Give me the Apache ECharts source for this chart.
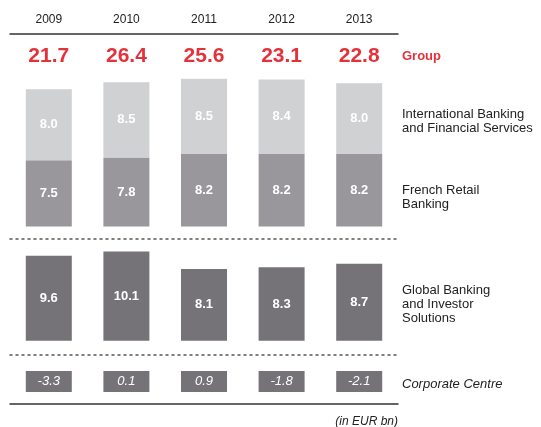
<!DOCTYPE html>
<html><head><meta charset="utf-8">
<script src="https://cdn.jsdelivr.net/npm/echarts@6/dist/echarts.min.js"></script>
<style>html,body{margin:0;padding:0;background:#fff}#c{width:541px;height:427px}</style>
</head><body><div id="c"></div>
<script>
const years = ['2009','2010','2011','2012','2013'];
const groupTotal = [21.7, 26.4, 25.6, 23.1, 22.8];
const ibfs = [8.0, 8.5, 8.5, 8.4, 8.0];
const frb = [7.5, 7.8, 8.2, 8.2, 8.2];
const gbis = [9.6, 10.1, 8.1, 8.3, 8.7];
const corpCentre = [-3.3, 0.1, 0.9, -1.8, -2.1];
const segmentNames = ['Group','International Banking\nand Financial Services','French Retail\nBanking','Global Banking\nand Investor\nSolutions','Corporate Centre'];
const unitNote = '(in EUR bn)';

const FONT = '"Liberation Sans", Arial, Helvetica, sans-serif';
const RED = '#e5323a', LIGHT = '#d0d1d3', MID = '#99979b', DARK = '#767378';
const fmt = v => v.toFixed(1);
const L = 10, W = 388;
const dotted = {show:true, onZero:false, lineStyle:{color:'#555', width:1.5, type:[2,4]}};
const solid = {show:true, onZero:false, lineStyle:{color:'#333', width:1.5}};
const hiddenY = i => ({type:'value', gridIndex:i, show:false});
const barLabel = {show:true, position:'inside', color:'#fff', fontWeight:'bold', fontSize:13, fontFamily:FONT, formatter:p=>fmt(p.value)};

const chart = echarts.init(document.getElementById('c'), null, {renderer:'canvas'});
chart.setOption({
  animation:false,
  textStyle:{fontFamily:FONT},
  grid:[
    {left:L, width:W, top:34, height:1},
    {left:L, width:W, top:49.5, height:177},
    {left:L, width:W, top:239, height:101.7},
    {left:L, width:W, top:355, height:49}
  ],
  xAxis:[
    {type:'category', gridIndex:0, position:'top', data:years, axisLine:solid, axisTick:{show:false},
     axisLabel:{margin:8, fontSize:12, color:'#222', fontFamily:FONT}},
    {type:'category', gridIndex:0, position:'bottom', data:groupTotal.map(fmt), axisLine:{show:false, onZero:false}, axisTick:{show:false},
     axisLabel:{margin:11, fontSize:21, fontWeight:'bold', color:RED, fontFamily:FONT}},
    {type:'category', gridIndex:1, data:years, show:false},
    {type:'category', gridIndex:2, position:'top', data:years, axisLine:dotted, axisTick:{show:false}, axisLabel:{show:false}},
    {type:'category', gridIndex:3, position:'top', data:years, axisLine:dotted, axisTick:{show:false}, axisLabel:{show:false}},
    {type:'category', gridIndex:3, position:'bottom', data:corpCentre.map(fmt), axisLine:solid, axisTick:{show:false},
     axisLabel:{inside:true, margin:12, formatter:v=>'{b|'+v+'}',
       rich:{b:{backgroundColor:DARK, width:46, height:21, lineHeight:21, align:'center', verticalAlign:'middle',
                color:'#fff', fontStyle:'italic', fontSize:13, fontFamily:FONT}}}}
  ],
  yAxis:[hiddenY(0), {type:'value', gridIndex:1, min:0, max:20, show:false},
         {type:'value', gridIndex:2, min:0, max:11.5, show:false}, hiddenY(3)],
  series:[
    {name:'French Retail Banking', type:'bar', xAxisIndex:2, yAxisIndex:1, stack:'retail', data:frb, barWidth:46,
     itemStyle:{color:MID}, label:barLabel},
    {name:'International Banking and Financial Services', type:'bar', xAxisIndex:2, yAxisIndex:1, stack:'retail', data:ibfs, barWidth:46,
     itemStyle:{color:LIGHT}, label:barLabel},
    {name:'Global Banking and Investor Solutions', type:'bar', xAxisIndex:3, yAxisIndex:2, data:gbis, barWidth:46,
     itemStyle:{color:DARK}, label:barLabel}
  ],
  graphic:[
    {type:'text', left:402, top:50, style:{text:segmentNames[0], fill:RED, font:'bold 13px '+FONT}},
    {type:'text', left:402, top:107, style:{text:segmentNames[1], fill:'#222', font:'13px '+FONT, lineHeight:14}},
    {type:'text', left:402, top:183, style:{text:segmentNames[2], fill:'#222', font:'13px '+FONT, lineHeight:14}},
    {type:'text', left:402, top:283, style:{text:segmentNames[3], fill:'#222', font:'13px '+FONT, lineHeight:14}},
    {type:'text', left:402, top:378, style:{text:segmentNames[4], fill:'#222', font:'italic 13px '+FONT}},
    {type:'text', right:143, top:416, style:{text:unitNote, fill:'#222', font:'italic 12px '+FONT}}
  ]
});
</script></body></html>
